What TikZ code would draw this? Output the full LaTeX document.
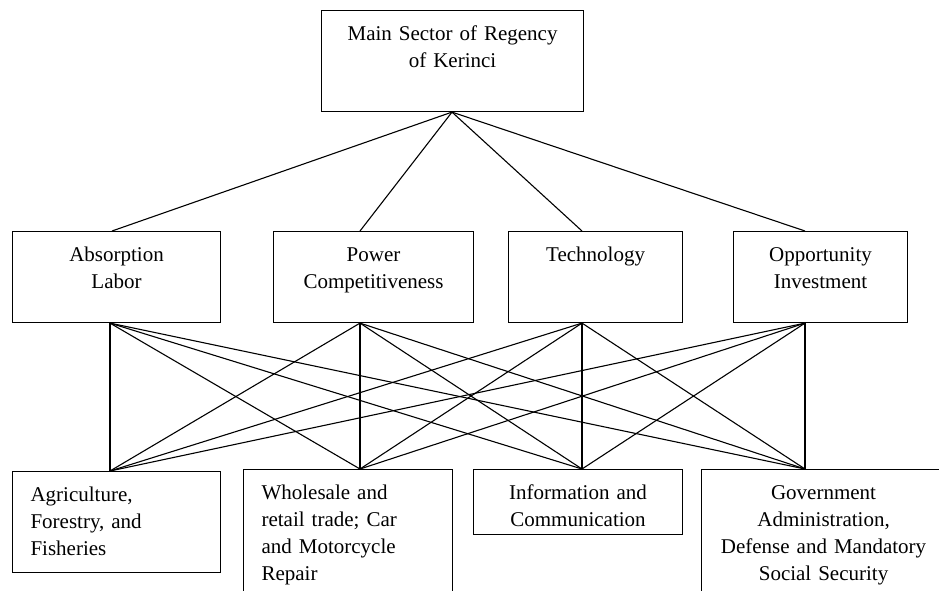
\documentclass[tikz,border=0pt]{standalone}
\usepackage{fontspec}
\setmainfont{Liberation Serif}
\usepackage{tikz}
\usetikzlibrary{positioning}

\tikzset{
    box/.style 2 args={draw, line width=1.1pt, anchor=north west, inner ysep=0pt, inner xsep=0pt,
        text width=#1, text height=30pt, text depth=#2, align=center,
        font=\fontsize{21}{27}\selectfont},
    leftbox/.style 2 args={box={#1}{#2}, inner xsep=18pt, align=left},
    link/.style={line width=1.1pt}
}

\begin{document}
\begin{tikzpicture}[x=1pt, y=-1pt]
        \useasboundingbox (0,0) rectangle (939,590);

        % Goal
        \node[box={262pt}{71pt}] (main) at (321,10) {Main Sector of Regency\\of Kerinci};

        % Criteria
        \node[box={208pt}{61pt}] (abs) at (12,231) {Absorption\\Labor};
        \node[box={200pt}{61pt}] (pow) at (273,231) {Power\\Competitiveness};
        \node[box={174pt}{61pt}] (tec) at (508,231) {Technology};
        \node[box={174pt}{61pt}] (opp) at (733,231) {Opportunity\\Investment};

        % Alternatives
        \node[leftbox={172pt}{71pt}] (agr) at (12,471) {Agriculture,\\Forestry, and\\Fisheries};
        \node[leftbox={173pt}{101pt}] (who) at (243,469) {Wholesale and\\retail trade; Car\\and Motorcycle\\Repair};
        \node[box={209pt}{35pt}] (inf) at (473,469) {Information and\\Communication};
        \node[box={244pt}{101pt}] (gov) at (701,469) {Government\\Administration,\\Defense and Mandatory\\Social Security};

        % Goal to criteria
        \foreach \a/\ax in {abs/112, pow/360, tec/582, opp/805} {
            \draw[link] (main.south -| 452,0) -- (\a.north -| \ax,0);
        }

        % Criteria to alternatives
        \foreach \a/\ax in {abs/110, pow/360, tec/582, opp/805} {
            \foreach \b/\bx in {agr/110, who/360, inf/582, gov/805} {
                \draw[link] (\a.south -| \ax,0) -- (\b.north -| \bx,0);
            }
        }
    \end{tikzpicture}
\end{document}
